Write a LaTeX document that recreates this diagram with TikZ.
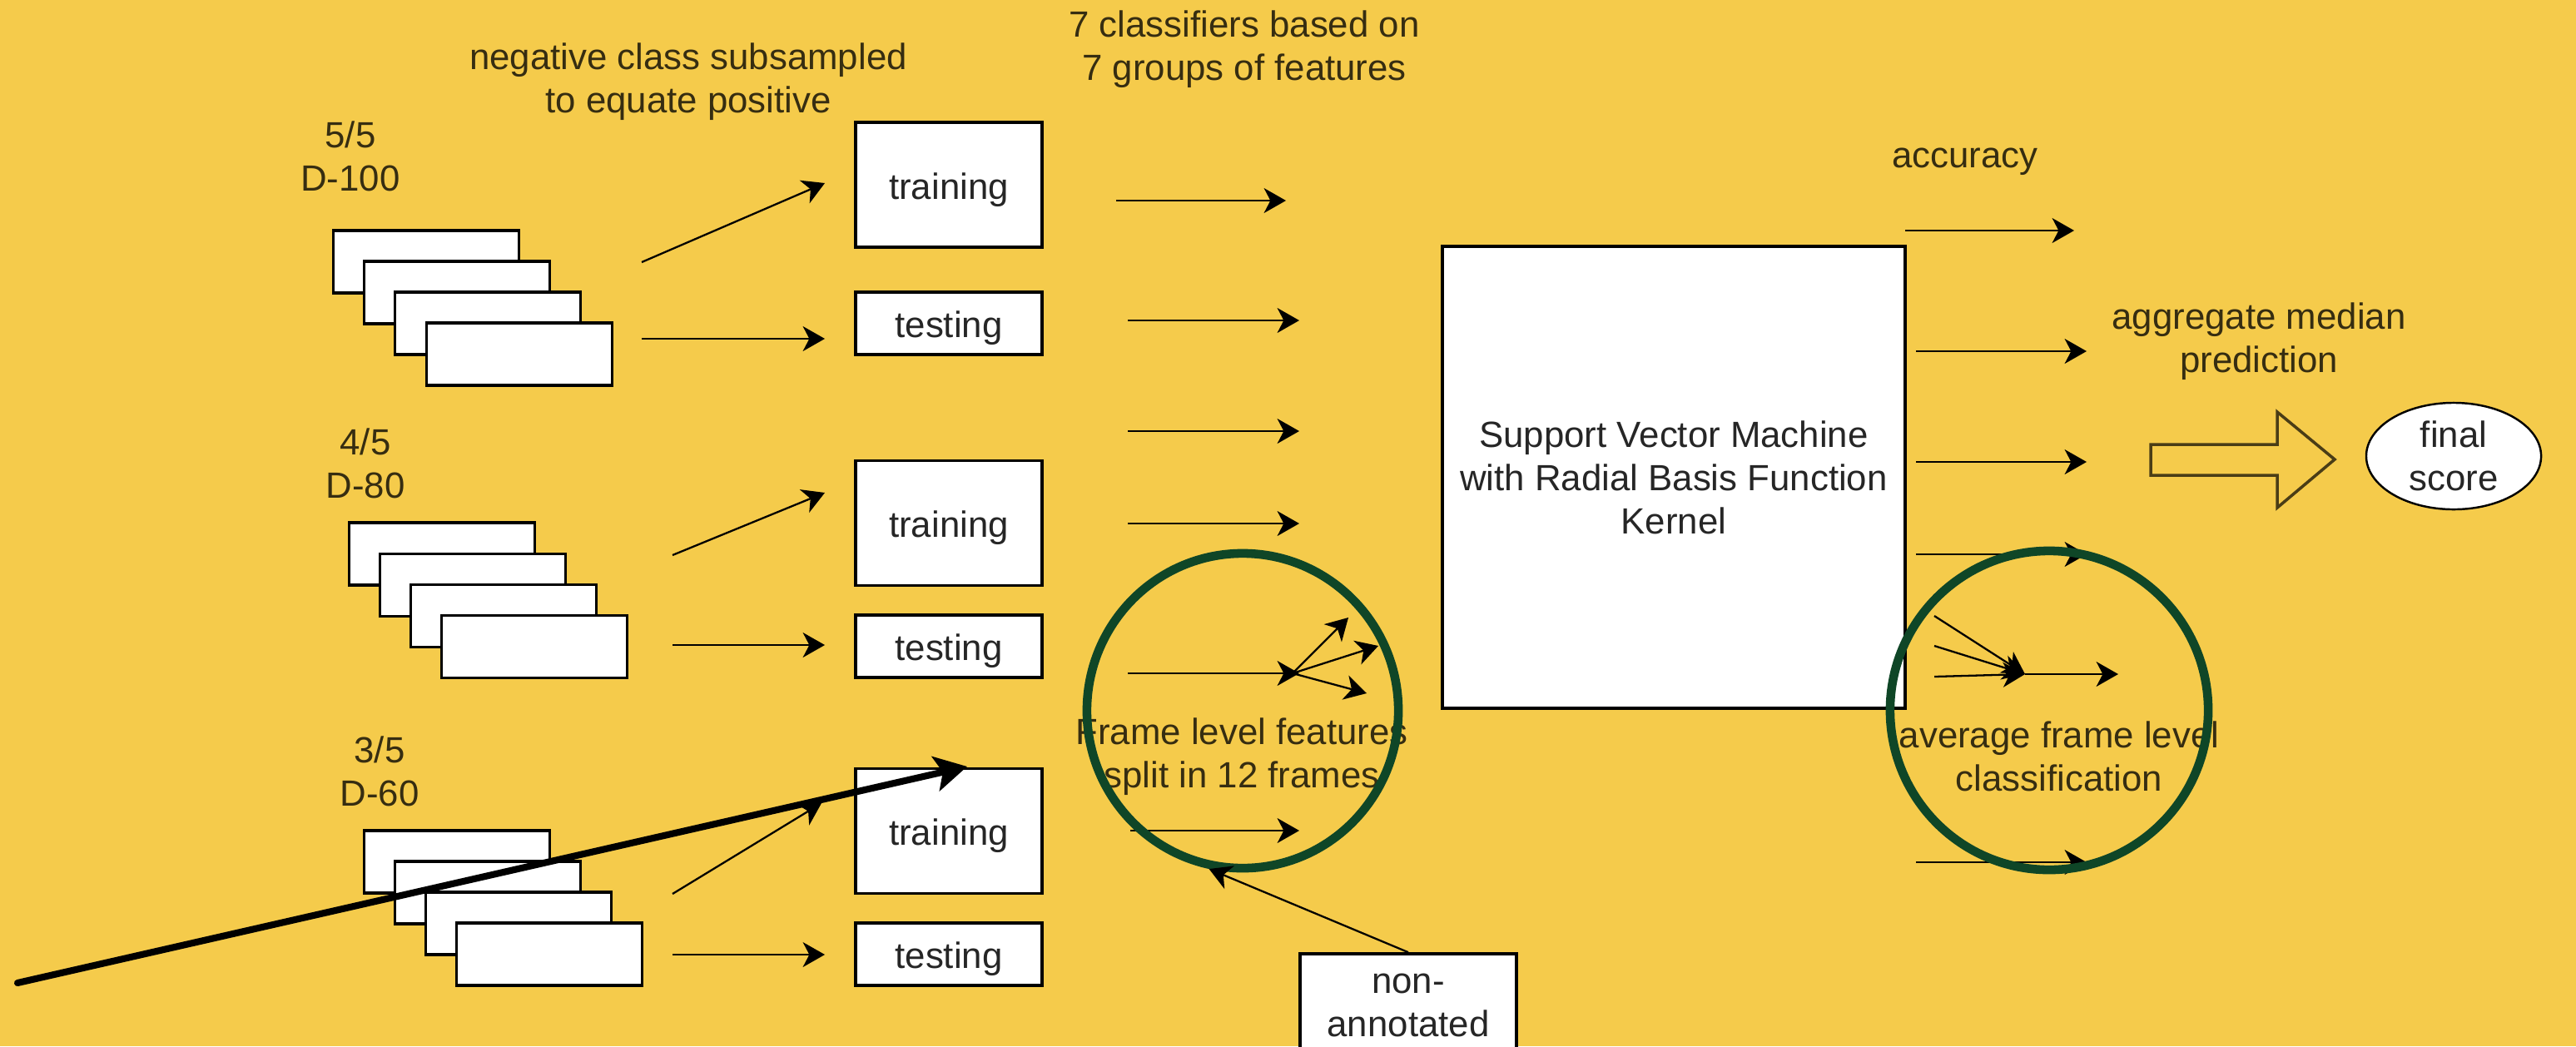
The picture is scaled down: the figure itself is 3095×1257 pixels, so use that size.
\documentclass[tikz,border=0pt]{standalone}
\usepackage{fontspec}
\setmainfont{Liberation Sans}
\usetikzlibrary{arrows.meta,shapes.geometric}
\definecolor{bgy}{HTML}{F5CB4B}
\definecolor{ringgreen}{HTML}{0F4627}
\colorlet{lbl}{black!78!bgy}
\colorlet{hollow}{black!70!bgy}
\begin{document}
\begin{tikzpicture}[x=0.01cm,y=-0.01cm,
  txt/.style={font=\fontsize{12.45}{14.8}\selectfont, align=center, inner sep=0pt, text=lbl},
  wbox/.style={draw=black, fill=white, line width=1pt, inner sep=0pt, font=\fontsize{12.45}{14.8}\selectfont, align=center, text=black!85},
  card/.style={wbox, minimum width=2.23cm, minimum height=0.75cm},
  trainbox/.style={wbox, minimum width=2.24cm, minimum height=1.50cm, text height=0.44cm},
  testbox/.style={wbox, minimum width=2.24cm, minimum height=0.75cm, text height=0.44cm},
  arr/.style={-{Stealth[length=7.5pt,width=8.5pt,inset=2.2pt]}, line width=0.65pt, draw=black},
  bigarr/.style={-{Stealth[length=11pt,width=12pt,inset=2.5pt]}, line width=2.3pt, line cap=round, draw=black},
  ring/.style={draw=ringgreen, line width=3pt, ellipse, inner sep=0pt},
]
\useasboundingbox (0,0) rectangle (3095,1257);
\clip (0,0) rectangle (3095,1257);
\fill[bgy] (0,0) rectangle (3095,1257);

% stacks of folds
\node[card] (s1a) at (512,314.5) {};
\node[card] (s1b) at (549,351.5) {};
\node[card] (s1c) at (586,388.5) {};
\node[card] (s1d) at (624,425.5) {};
\node[card] (s2a) at (531,665.5) {};
\node[card] (s2b) at (568,703) {};
\node[card] (s2c) at (605,740) {};
\node[card] (s2d) at (642,777) {};
\node[card] (s3a) at (549,1035.5) {};
\node[card] (s3b) at (586,1072.5) {};
\node[card] (s3c) at (623,1109.5) {};
\node[card] (s3d) at (660,1146.5) {};

% training / testing boxes
\node[trainbox] (tr1) at (1140,222) {training};
\node[testbox]  (te1) at (1140,388.5) {testing};
\node[trainbox] (tr2) at (1140,628.5) {training};
\node[testbox]  (te2) at (1140,776.5) {testing};
\node[trainbox] (tr3) at (1140,998.5) {training};
\node[testbox]  (te3) at (1140,1146.5) {testing};

% labels
\node[txt] (l5) at (421,188) {5/5\\D-100};
\node[txt] (l4) at (439,557) {4/5\\D-80};
\node[txt] (l3) at (456,927) {3/5\\D-60};
\node[txt] (neg) at (827,98) {negative class subsampled\\to equate positive};
\node[txt] (cls) at (1495,59) {7 classifiers based on\\7 groups of features};
\node[txt] (frm) at (1492,909) {Frame level features\\split in 12 frames};
\node[txt] (acc) at (2361,194) {accuracy};
\node[txt] (agg) at (2714,410) {aggregate median\\prediction};
\node[txt] (avg) at (2474,909) {average frame level\\classification};

% SVM
\node[wbox, minimum width=5.56cm, minimum height=5.55cm] (svm) at (2011,573.5)
  {Support Vector Machine\\with Radial Basis Function\\Kernel};

% non-annotated
\node[wbox, minimum width=2.60cm, minimum height=1.24cm] (na) at (1692,1208) {non-\\annotated};

% final score
\node[ellipse, draw=black, fill=white, line width=0.7pt, minimum width=2.10cm, minimum height=1.28cm, inner sep=0pt,
  font=\fontsize{12.45}{14.8}\selectfont, align=center, text=black!85] (fs) at (2948,548) {final\\score};

% arrow coordinates
\coordinate (a1s) at (771,315);  \coordinate (a1e) at (991,220);
\coordinate (b1s) at (771,407);  \coordinate (b1e) at (991,407);
\coordinate (a2s) at (808,667);  \coordinate (a2e) at (991,592);
\coordinate (b2s) at (808,775);  \coordinate (b2e) at (991,775);
\coordinate (a3s) at (808,1074); \coordinate (a3e) at (987,965);
\coordinate (b3s) at (808,1147); \coordinate (b3e) at (991,1147);

\coordinate (f1s) at (1341,241); \coordinate (f1e) at (1545,241);
\coordinate (f2s) at (1355,385); \coordinate (f2e) at (1561,385);
\coordinate (f3s) at (1355,518); \coordinate (f3e) at (1561,518);
\coordinate (f4s) at (1355,629); \coordinate (f4e) at (1561,629);
\coordinate (f5s) at (1355,809); \coordinate (f5e) at (1561,809);
\coordinate (f6s) at (1358,998); \coordinate (f6e) at (1561,998);
\coordinate (sp) at (1553,809);
\coordinate (sp1) at (1620,742);
\coordinate (sp2) at (1656,776);
\coordinate (sp3) at (1642,833);

\coordinate (r1s) at (2289,277); \coordinate (r1e) at (2492,277);
\coordinate (r2s) at (2302,422); \coordinate (r2e) at (2507,422);
\coordinate (r3s) at (2302,555); \coordinate (r3e) at (2507,555);
\coordinate (r4s) at (2302,666); \coordinate (r4e) at (2507,666);
\coordinate (r6s) at (2302,1036); \coordinate (r6e) at (2507,1036);
\coordinate (cv) at (2433,810);
\coordinate (cv1) at (2324,740);
\coordinate (cv2) at (2324,776);
\coordinate (cv3) at (2324,813);
\coordinate (cve) at (2545,810);

\coordinate (bgs) at (21,1181); \coordinate (bge) at (1162,921);

% arrows
\draw[arr] (a1s) -- (a1e);
\draw[arr] (b1s) -- (b1e);
\draw[arr] (a2s) -- (a2e);
\draw[arr] (b2s) -- (b2e);
\draw[arr] (a3s) -- (a3e);
\draw[arr] (b3s) -- (b3e);
\draw[arr] (f1s) -- (f1e);
\draw[arr] (f2s) -- (f2e);
\draw[arr] (f3s) -- (f3e);
\draw[arr] (f4s) -- (f4e);
\draw[arr] (f5s) -- (f5e);
\draw[arr] (f6s) -- (f6e);
\draw[arr] (sp) -- (sp1);
\draw[arr] (sp) -- (sp2);
\draw[arr] (sp) -- (sp3);
\draw[arr] (r1s) -- (r1e);
\draw[arr] (r2s) -- (r2e);
\draw[arr] (r3s) -- (r3e);
\draw[arr] (r4s) -- (r4e);
\draw[arr] (r6s) -- (r6e);
\draw[arr] (cv1) -- (cv);
\draw[arr] (cv2) -- (cv);
\draw[arr] (cv3) -- (cv);
\draw[arr] (cv) -- (cve);

% hollow block arrow
\draw[draw=hollow, line width=1pt] (2584,534) -- (2736,534) -- (2736,495) -- (2805,552)
  -- (2736,610) -- (2736,571) -- (2584,571) -- cycle;

% green rings
\node[ring, minimum width=3.74cm, minimum height=3.78cm] (ring1) at (1493,854) {};
\node[ring, minimum width=3.82cm, minimum height=3.83cm] (ring2) at (2462,853.5) {};

\draw[arr] (na.north) -- (ring1.258);

% big arrow
\draw[bigarr] (bgs) -- (bge);
\end{tikzpicture}
\end{document}
